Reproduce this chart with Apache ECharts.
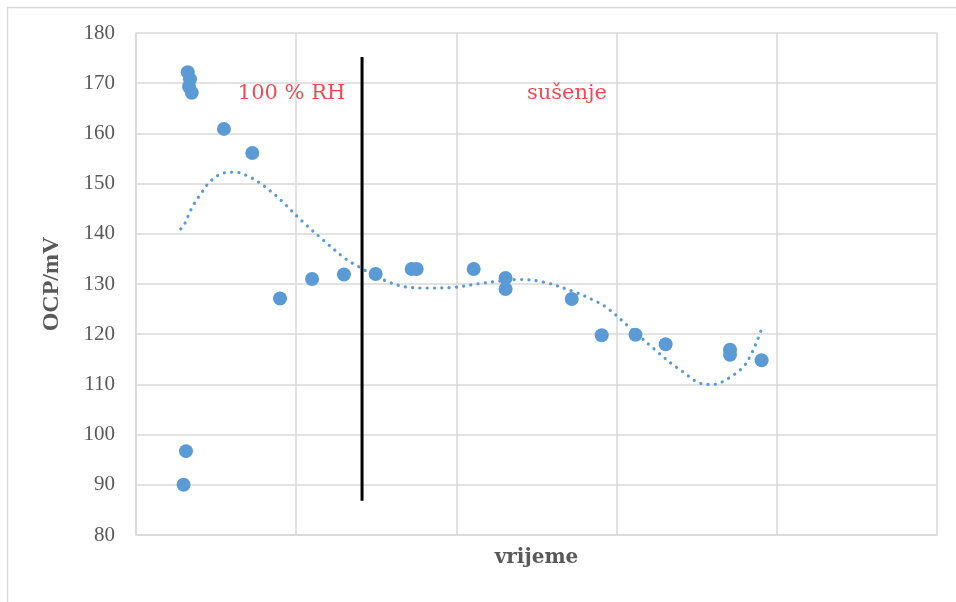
<!DOCTYPE html>
<html>
<head>
<meta charset="utf-8">
<script src="https://cdn.jsdelivr.net/npm/echarts@6/dist/echarts.min.js"></script>
<style>
html,body{margin:0;padding:0;background:#fff;}
#c{width:956px;height:602px;}
</style>
</head>
<body>
<div id="c"></div>
<script>
// x axis: unlabelled time, 0..5 ; y axis: OCP in mV
var xTicks = [0, 1, 2, 3, 4, 5];
var yTicks = [80, 90, 100, 110, 120, 130, 140, 150, 160, 170, 180];

// measured points [time, OCP]
var measX = [0.297, 0.312, 0.323, 0.337, 0.331, 0.348, 0.549, 0.726, 0.899, 1.099, 1.298, 1.496, 1.721, 1.752, 2.108, 2.307, 2.307, 2.720, 2.907, 3.118, 3.306, 3.708, 3.708, 3.905];
var measY = [90.0, 96.7, 172.2, 170.8, 169.3, 168.1, 160.9, 156.1, 127.1, 131.0, 131.9, 132.0, 133.0, 133.0, 133.0, 131.2, 129.0, 127.0, 119.8, 119.9, 118.0, 116.9, 115.9, 114.8];

// polynomial trendline
var trendX = [0.280, 0.292, 0.354, 0.406, 0.462, 0.535, 0.614, 0.705, 0.774, 0.836, 0.911, 1.041, 1.174, 1.305, 1.381, 1.554, 1.710, 1.815, 1.971, 2.147, 2.252, 2.397, 2.542, 2.730, 2.855, 2.938, 3.073, 3.240, 3.396, 3.558, 3.604, 3.687, 3.791, 3.843, 3.884, 3.901];
var trendY = [141.0, 141.2, 145.5, 148.0, 150.4, 152.0, 152.3, 151.4, 150.1, 148.6, 146.5, 142.4, 138.6, 135.1, 133.6, 130.7, 129.3, 129.2, 129.3, 130.1, 130.5, 130.9, 130.4, 128.5, 126.8, 125.3, 121.6, 116.9, 112.9, 110.0, 110.0, 111.0, 113.5, 116.2, 119.2, 120.7];

// vertical divider between phases
var dividerX = 1.411;
var dividerY = [86.8, 175.2];

// phase annotations
var noteText = ['100 % RH', 'sušenje'];
var noteX = [0.971, 2.69];
var noteY = [167.9, 167.9];

function zip(a, b) { return a.map(function (v, i) { return [v, b[i]]; }); }

var chart = echarts.init(document.getElementById('c'));
var serif = '"DejaVu Serif", serif';
var times = '"Liberation Serif", "Times New Roman", serif';

chart.setOption({
  animation: false,
  backgroundColor: '#fff',
  graphic: [{
    type: 'rect', silent: true,
    shape: { x: 7.5, y: 7.5, width: 1000, height: 1000 },
    style: { fill: 'none', stroke: '#d9d9d9', lineWidth: 1.5 }
  }],
  grid: { left: 136, right: 19, top: 33, bottom: 67 },
  xAxis: {
    type: 'value', min: xTicks[0], max: xTicks[xTicks.length - 1], interval: 1,
    name: 'vrijeme', nameLocation: 'middle', nameGap: 13,
    nameTextStyle: { fontFamily: serif, fontWeight: 'bold', fontSize: 20, color: '#595959' },
    axisLine: { show: true, lineStyle: { color: '#d9d9d9', width: 1.5 } },
    axisTick: { show: false },
    axisLabel: { show: false },
    splitLine: { show: true, lineStyle: { color: '#d9d9d9', width: 1.5 } }
  },
  yAxis: {
    type: 'value', min: yTicks[0], max: yTicks[yTicks.length - 1], interval: 10,
    name: 'OCP/mV', nameLocation: 'middle', nameGap: 72, nameRotate: 90,
    nameTextStyle: { fontFamily: times, fontWeight: 'bold', fontSize: 24, color: '#595959' },
    axisLine: { show: true, lineStyle: { color: '#d9d9d9', width: 1.5 } },
    axisTick: { show: false },
    axisLabel: { fontFamily: times, fontSize: 21, color: '#595959', margin: 21 },
    splitLine: { show: true, lineStyle: { color: '#d9d9d9', width: 1.5 } }
  },
  series: [
    {
      type: 'line', data: zip(trendX, trendY), smooth: 0.35, symbol: 'none', z: 2,
      lineStyle: { color: '#5b9bd5', width: 3.2, type: [0.1, 7.2], cap: 'round' }
    },
    {
      type: 'line', data: [[dividerX, dividerY[0]], [dividerX, dividerY[1]]], symbol: 'none', z: 3,
      lineStyle: { color: '#000', width: 3 }
    },
    {
      type: 'scatter', data: zip(measX, measY), symbolSize: 14, z: 4,
      itemStyle: { color: '#5b9bd5', opacity: 1 }
    },
    {
      type: 'scatter', symbolSize: 0, z: 5,
      data: noteText.map(function (t, i) { return { value: [noteX[i], noteY[i]], name: t }; }),
      label: {
        show: true, position: 'inside', formatter: '{b}',
        fontFamily: serif, fontSize: 21, color: '#ee1c25'
      }
    }
  ]
});
</script>
</body>
</html>
